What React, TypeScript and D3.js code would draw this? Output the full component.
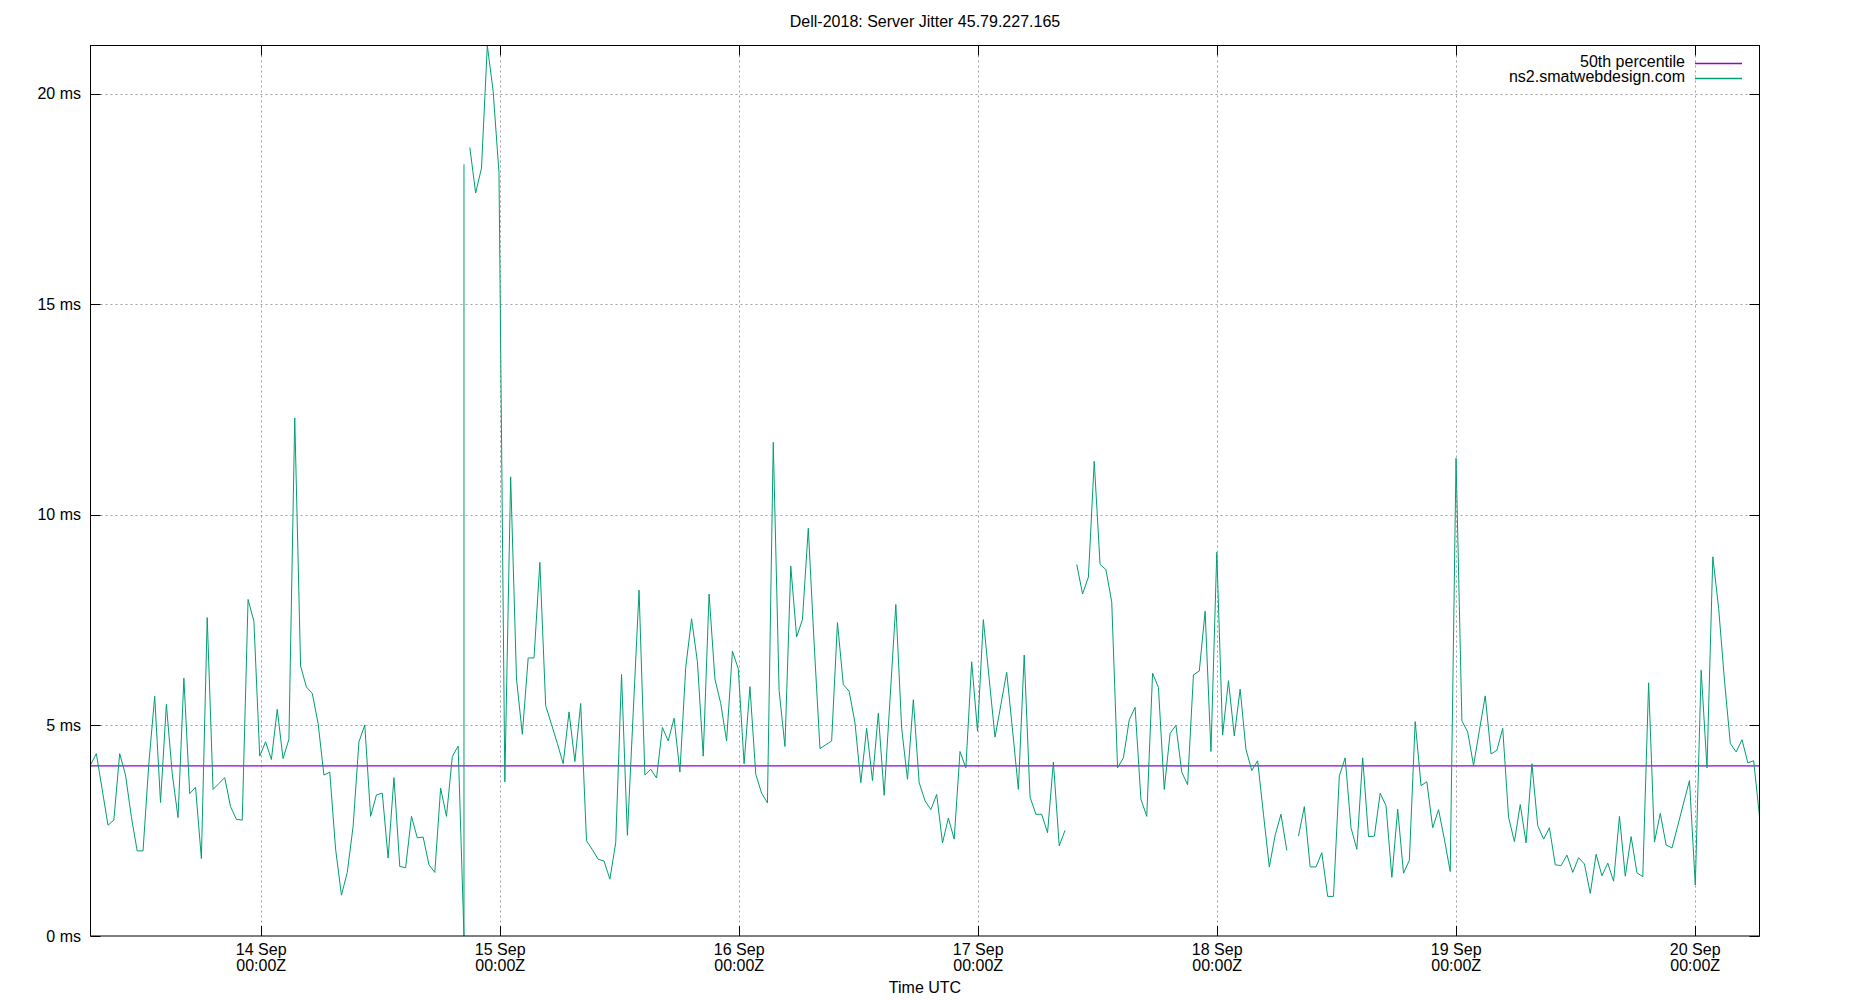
import React from "react";
import * as d3 from "d3";

// ---- data ----
const TITLE = "Dell-2018: Server Jitter 45.79.227.165";
const X_LABEL = "Time UTC";
const SERIES_NAME = "ns2.smatwebdesign.com";
const MEDIAN_NAME = "50th percentile";
const MEDIAN_MS = 4.04;

// first sample time and sampling interval
const FIRST_SAMPLE = Date.UTC(2018, 8, 13, 6, 51, 36);
const SAMPLE_MINUTES = 35.16;

// jitter values in ms (null = missing sample, [a, b] = two readings at one time)
type Sample = number | null | [number, number];
const jitter13Sep: Sample[] = [
  4.06, 4.33, 3.48, 2.63, 2.75, 4.33, 3.82, 2.83, 2.02, 2.02,
  4.10, 5.69, 3.17, 5.50, 3.86, 2.81, 6.12, 3.38, 3.53, 1.84,
  7.56, 3.48, 3.62, 3.76, 3.07, 2.77, 2.75, 7.99, 7.47, 4.27,
  4.61, 4.19, 5.38, 4.21, 4.67, 12.30,
];
const jitter14Sep: Sample[] = [
  6.41, 5.91, 5.76, 5.05, 3.82, 3.89, 2.06, 0.97, 1.51, 2.60,
  4.61, 5.01, 2.84, 3.35, 3.39, 1.85, 3.76, 1.65, 1.62, 2.84,
  2.33, 2.35, 1.69, 1.51, 3.51, 2.84, 4.26, 4.51, [0.0, 18.32], 18.72,
  17.64, 18.23, 21.14, 20.05, 18.12, 3.66, 10.90,
];
const jitter15Sep: Sample[] = [
  6.10, 4.79, 6.60, 6.60, 8.87, 5.47, 5.02, 4.57, 4.09, 5.32,
  4.14, 5.52, 2.26, 2.05, 1.82, 1.78, 1.35, 2.21, 6.21, 2.39,
  5.30, 8.21, 3.82, 3.96, 3.75, 4.95, 4.63, 5.17, 3.89, 6.38,
  7.53, 6.51, 4.27, 8.12, 6.10, 5.52,
];
const jitter16Sep: Sample[] = [
  4.63, 6.76, 6.35, 4.09, 5.92, 3.84, 3.39, 3.16, 11.72, 5.83,
  4.50, 8.78, 7.10, 7.51, 9.68, 6.95, 4.45, 4.54, 4.63, 7.44,
  5.97, 5.81, 5.06, 3.64, 4.93, 3.69, 5.29, 3.34, 5.61, 7.87,
  4.93, 3.72, 5.61, 3.64, 3.21, 3.00,
];
const jitter17Sep: Sample[] = [
  3.36, 2.21, 2.80, 2.30, 4.38, 3.99, 6.51, 4.86, 7.51, 6.10,
  4.72, 5.49, 6.26, 4.89, 3.48, 6.67, 3.30, 2.89, 2.89, 2.45,
  4.13, 2.14, 2.51, null, 8.82, 8.12, 8.52, 11.27, 8.82, 8.70,
  7.93, 3.99, 4.23, 5.13, 5.43, 3.25,
];
const jitter18Sep: Sample[] = [
  2.84, 6.24, 5.90, 3.48, 4.81, 5.00, 3.89, 3.59, 6.20, 6.29,
  7.71, 4.38, 9.11, 4.77, 6.06, 4.75, 5.86, 4.43, 3.93, 4.16,
  2.89, 1.64, 2.39, 2.89, 2.03, null, 2.37, 3.07, 1.64, 1.64,
  1.98, 0.94, 0.94, 3.80, 4.23, 2.57,
];
const jitter19Sep: Sample[] = [
  2.06, 4.23, 2.36, 2.37, 3.39, 3.09, 1.39, 3.01, 1.49, 1.80,
  5.09, 3.57, 3.66, 2.57, 3.00, 2.30, 1.53, 11.34, 5.11, 4.84,
  4.05, 4.88, 5.70, 4.32, 4.41, 4.93, 2.82, 2.24, 3.12, 2.21,
  4.09, 2.62, 2.30, 2.57, 1.69, 1.67,
];
const jitter20Sep: Sample[] = [
  1.92, 1.51, 1.86, 1.71, 1.01, 1.94, 1.43, 1.73, 1.30, 2.84,
  1.42, 2.36, 1.50, 1.41, 6.01, 2.23, 2.91, 2.16, 2.09, 2.62,
  3.16, 3.69, 1.21, 6.31, 3.99, 9.00, 7.78, 6.06, 4.57, 4.37,
  4.66, 4.11, 4.16, 2.84,
];
// sample indices where the plotted line is interrupted
const LINE_BREAKS = [65];

const Y_TICKS = [0, 5, 10, 15, 20];

// ---- layout ----
const W = 1850;
const H = 1000;
const PLOT = { left: 90.5, right: 1759.5, top: 45.5, bottom: 936 };
const FONT = "'Liberation Sans', Arial, Helvetica, sans-serif";
const GREEN = "#009e73";
const PURPLE = "#9400d3";
const GRID = "#a0a0a0";

type Pt = { t: number; v: number };

export default function App() {
  const samples: Sample[] = [
    ...jitter13Sep, ...jitter14Sep, ...jitter15Sep, ...jitter16Sep,
    ...jitter17Sep, ...jitter18Sep, ...jitter19Sep, ...jitter20Sep,
  ];
  const stepMs = SAMPLE_MINUTES * 60 * 1000;
  const points: Pt[] = [];
  samples.forEach((s, i) => {
    const t = FIRST_SAMPLE + i * stepMs;
    if (LINE_BREAKS.includes(i)) points.push({ t, v: NaN });
    if (s === null) points.push({ t, v: NaN });
    else if (Array.isArray(s)) s.forEach((v) => points.push({ t, v }));
    else points.push({ t, v: s });
  });
  const valid = points.filter((p) => !isNaN(p.v));
  const tEnd = FIRST_SAMPLE + (samples.length - 1) * stepMs;

  const x = d3.scaleUtc().domain([FIRST_SAMPLE, tEnd]).range([PLOT.left, PLOT.right]);
  const yMax = d3.max(valid, (d) => d.v) as number;
  const y = d3.scaleLinear().domain([0, yMax]).range([PLOT.bottom, PLOT.top]);

  const line = d3
    .line<Pt>()
    .defined((d) => !isNaN(d.v))
    .x((d) => x(d.t))
    .y((d) => y(d.v));

  const dayTicks = d3.utcDay.range(new Date(FIRST_SAMPLE), new Date(tEnd));
  const fmtDay = d3.utcFormat("%-d %b");
  const fmtTime = d3.utcFormat("%H:%MZ");
  const tickLen = 10;
  const cx = W / 2;

  return (
    <svg
      width={W}
      height={H}
      style={{ position: "absolute", left: 0, top: 0, background: "#fff" }}
      fontFamily={FONT}
    >
      <rect x={0} y={0} width={W} height={H} fill="#fff" />
      {/* grid */}
      <g stroke={GRID} strokeWidth={1} strokeDasharray="2,3" fill="none">
        {Y_TICKS.filter((v) => v > 0).map((v) => (
          <line key={"gy" + v} x1={PLOT.left} x2={PLOT.right} y1={Math.round(y(v)) + 0.5} y2={Math.round(y(v)) + 0.5} />
        ))}
        {dayTicks.map((d) => (
          <line key={"gx" + d.getTime()} x1={Math.round(x(d)) + 0.5} x2={Math.round(x(d)) + 0.5} y1={PLOT.top} y2={PLOT.bottom} />
        ))}
      </g>
      {/* median */}
      <line x1={PLOT.left} x2={PLOT.right} y1={y(MEDIAN_MS)} y2={y(MEDIAN_MS)} stroke={PURPLE} strokeWidth={1.3} />
      {/* data */}
      <path d={line(points) || ""} fill="none" stroke={GREEN} strokeWidth={1} strokeLinejoin="miter" />
      {/* frame + ticks */}
      <g stroke="#000" strokeWidth={1} fill="none">
        <rect x={PLOT.left} y={PLOT.top} width={PLOT.right - PLOT.left} height={PLOT.bottom - PLOT.top} />
        {Y_TICKS.map((v) => {
          const yy = Math.round(y(v)) + 0.5;
          return (
            <g key={"ty" + v}>
              <line x1={PLOT.left} x2={PLOT.left + tickLen} y1={yy} y2={yy} />
              <line x1={PLOT.right - tickLen} x2={PLOT.right} y1={yy} y2={yy} />
            </g>
          );
        })}
        {dayTicks.map((d) => {
          const xx = Math.round(x(d)) + 0.5;
          return (
            <g key={"tx" + d.getTime()}>
              <line x1={xx} x2={xx} y1={PLOT.bottom} y2={PLOT.bottom - tickLen} />
              <line x1={xx} x2={xx} y1={PLOT.top} y2={PLOT.top + tickLen} />
            </g>
          );
        })}
      </g>
      {/* tick labels */}
      <g fontSize={16} fill="#000">
        {Y_TICKS.map((v) => (
          <text key={"ly" + v} x={81} y={y(v) + 5.5} textAnchor="end">
            {v} ms
          </text>
        ))}
        {dayTicks.map((d) => (
          <text key={"lx" + d.getTime()} x={x(d)} y={955} textAnchor="middle">
            <tspan x={x(d)} y={955}>{fmtDay(d)}</tspan>
            <tspan x={x(d)} y={970.5}>{fmtTime(d)}</tspan>
          </text>
        ))}
        <text x={cx} y={26.5} textAnchor="middle">{TITLE}</text>
        <text x={cx} y={993} textAnchor="middle">{X_LABEL}</text>
      </g>
      {/* legend */}
      <g fontSize={16} fill="#000">
        <text x={1685} y={66.5} textAnchor="end">{MEDIAN_NAME}</text>
        <line x1={1695} x2={1742} y1={63.5} y2={63.5} stroke={PURPLE} strokeWidth={1.3} />
        <text x={1685} y={81.5} textAnchor="end">{SERIES_NAME}</text>
        <line x1={1695} x2={1742} y1={78.5} y2={78.5} stroke={GREEN} strokeWidth={1.3} />
      </g>
    </svg>
  );
}
